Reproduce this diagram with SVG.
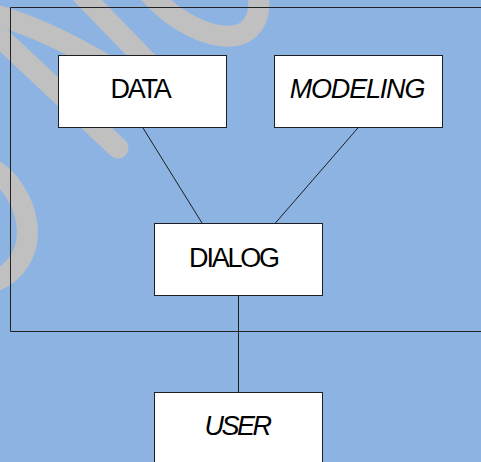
<svg xmlns="http://www.w3.org/2000/svg" width="481" height="462" viewBox="0 0 481 462">
  <style>
    .swoosh { fill: none; stroke: #c0c0c0; stroke-width: 21; stroke-linecap: round; stroke-linejoin: round; }
    .frame { fill: none; stroke: #222; stroke-width: 1; }
    .box { fill: #ffffff; stroke: #1e1e1e; stroke-width: 1; }
    .link { fill: none; stroke: #1e1e1e; stroke-width: 1; }
    .label { font-family: "Liberation Sans", Arial, sans-serif; font-size: 27px; fill: #000; text-anchor: middle; }
    .upright { letter-spacing: -2.2px; }
    .slanted { font-style: italic; }
  </style>

  <!-- backdrop -->
  <rect x="0" y="0" width="481" height="462" fill="#8db3e2"/>

  <!-- grey brush strokes behind the diagram -->
  <g id="swoosh">
    <path class="swoosh" d="M -15 12 Q 50 28 130 80"/>
    <path class="swoosh" d="M 70 -18 L 160 75"/>
    <path class="swoosh" d="M -15 23 L 118 148"/>
    <path class="swoosh" d="M 145 -12 C 175 25 225 48 248 30 C 262 18 260 0 256 -15"/>
    <path class="swoosh" d="M -15 165 C 30 185 52 265 -15 285"/>
  </g>

  <!-- system boundary -->
  <g id="frame">
    <path class="frame" d="M 490 7.5 H 10.5 V 331.5 H 490"/>
  </g>

  <!-- connectors -->
  <g id="connectors">
    <line class="link" x1="142.7" y1="127.5" x2="202.3" y2="223.5"/>
    <line class="link" x1="358.3" y1="127.5" x2="275" y2="223.5"/>
    <line class="link" x1="238.5" y1="295.5" x2="238.5" y2="392.5"/>
  </g>

  <!-- nodes -->
  <g id="data">
    <rect class="box" x="58.5" y="55.5" width="168" height="72"/>
    <text class="label upright" x="140" y="98">DATA</text>
  </g>
  <g id="modeling">
    <rect class="box" x="274.5" y="55.5" width="168" height="72"/>
    <text class="label slanted" x="357" y="98" letter-spacing="-1.2">MODELING</text>
  </g>
  <g id="dialog">
    <rect class="box" x="154.5" y="223.5" width="168" height="72"/>
    <text class="label upright" x="233.5" y="266.5">DIALOG</text>
  </g>
  <g id="user">
    <rect class="box" x="154.5" y="392.5" width="168" height="80"/>
    <text class="label slanted" x="237" y="435" letter-spacing="-2.5">USER</text>
  </g>
</svg>
